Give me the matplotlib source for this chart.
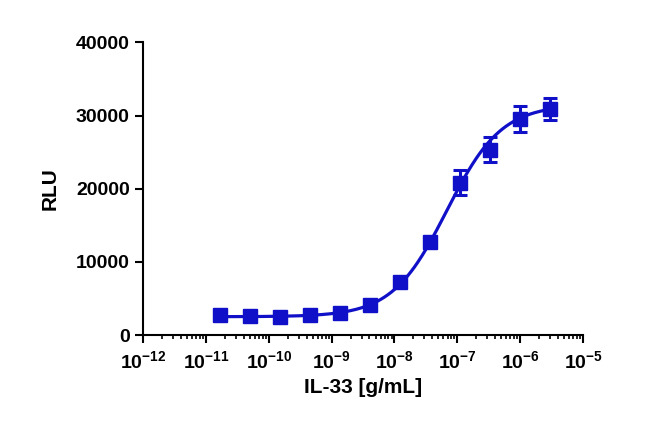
import matplotlib
matplotlib.use('Agg')
import matplotlib.pyplot as plt
import numpy as np
from matplotlib.ticker import LogLocator, FixedLocator, NullFormatter

# IL-33 dose response, 3-fold dilutions
conc = [1.69e-11, 5.08e-11, 1.52e-10, 4.57e-10, 1.37e-9, 4.12e-9,
        1.23e-8, 3.70e-8, 1.11e-7, 3.33e-7, 1.0e-6, 3.0e-6]
rlu = [2700, 2600, 2400, 2700, 3050, 4150, 7300, 12700, 20800, 25300, 29500, 30900]
err = [250, 200, 250, 200, 250, 300, 500, 500, 1700, 1700, 1800, 1450]

# 4PL fit parameters (bottom, top, EC50, hill)
fit_bottom = 2500
fit_top = 31500
fit_ec50 = 6.8e-8
fit_hill = 1.0

x_ticks = [1e-12, 1e-11, 1e-10, 1e-9, 1e-8, 1e-7, 1e-6, 1e-5]
x_labels = [r'$\mathbf{10^{-12}}$', r'$\mathbf{10^{-11}}$', r'$\mathbf{10^{-10}}$',
            r'$\mathbf{10^{-9}}$', r'$\mathbf{10^{-8}}$', r'$\mathbf{10^{-7}}$',
            r'$\mathbf{10^{-6}}$', r'$\mathbf{10^{-5}}$']
y_ticks = [0, 10000, 20000, 30000, 40000]

blue = '#1010c8'

plt.rcParams['font.family'] = ['Liberation Sans', 'DejaVu Sans']
plt.rcParams['font.weight'] = 'bold'
plt.rcParams['mathtext.fontset'] = 'custom'
plt.rcParams['mathtext.rm'] = 'Liberation Sans:bold'
plt.rcParams['mathtext.bf'] = 'Liberation Sans:bold'
plt.rcParams['mathtext.it'] = 'Liberation Sans:bold'

fig = plt.figure(figsize=(6.5, 4.26), dpi=100)
ax = fig.add_axes([0.22, 0.2136, 0.677, 0.687])

xs = np.logspace(np.log10(conc[0]), np.log10(conc[-1]), 300)
ys = fit_bottom + (fit_top - fit_bottom) / (1 + (fit_ec50 / xs) ** fit_hill)
ax.plot(xs, ys, color=blue, lw=2.3)
ax.errorbar(conc, rlu, yerr=err, fmt='s', color=blue, ms=9.5, capsize=5,
            elinewidth=2.2, capthick=2.2)

ax.set_xscale('log')
ax.set_xlim(1e-12, 1e-5)
ax.set_ylim(0, 40000)
ax.xaxis.set_major_locator(FixedLocator(x_ticks))
ax.set_xticklabels(x_labels, fontsize=14)
ax.xaxis.set_minor_locator(LogLocator(base=10, subs=np.arange(2, 10), numticks=20))
ax.xaxis.set_minor_formatter(NullFormatter())
ax.set_yticks(y_ticks)
ax.set_yticklabels([str(v) for v in y_ticks], fontsize=14, fontweight='bold')

for s in ['top', 'right']:
    ax.spines[s].set_visible(False)
for s in ['left', 'bottom']:
    ax.spines[s].set_linewidth(1.5)
ax.tick_params(axis='both', which='major', direction='out', length=6, width=1.5)
ax.tick_params(axis='x', which='minor', direction='out', length=3, width=1.2)
ax.tick_params(axis='x', pad=5)

ax.set_xlabel('IL-33 [g/mL]', fontsize=15, fontweight='bold', labelpad=4)
ax.set_ylabel('RLU', fontsize=15, fontweight='bold', labelpad=12)

plt.savefig('out.png', dpi=100)
